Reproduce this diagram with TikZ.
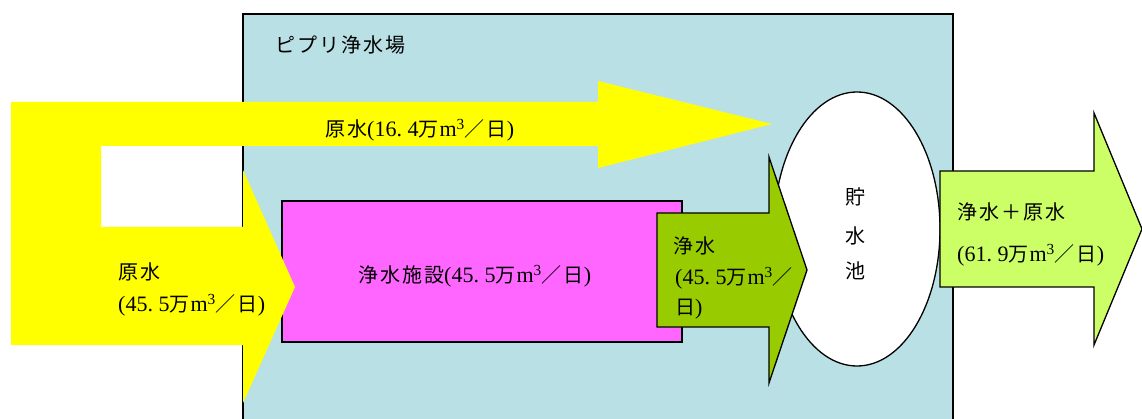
\documentclass[tikz,border=0pt]{standalone}
\usepackage{fontspec}
\setmainfont{Liberation Serif}[Scale=1.1]
\newfontfamily\cjk{Noto Sans CJK JP}[LetterSpace=10]
\usetikzlibrary{shapes.geometric}
\definecolor{plantbg}{RGB}{185,224,228}
\definecolor{rawyellow}{RGB}{255,255,0}
\definecolor{facmag}{RGB}{255,102,255}
\definecolor{cleangreen}{RGB}{153,204,0}
\definecolor{outgreen}{RGB}{204,255,102}
\newcommand{\myunit}{{\cjk 万}\kern1pt m\textsuperscript{3}{\cjk ／日}}
\newcommand{\pd}{.\kern.25em}
\begin{document}
\begin{tikzpicture}[x=1pt,y=-1pt,
  lbl/.style={anchor=base west, inner sep=0pt, font=\fontsize{20}{24}\selectfont},
  blockline/.style={draw=black, line width=1.3pt, line join=miter}]
\clip (0,0) rectangle (1142,419);
\fill[white] (0,0) rectangle (1142,419);
% plant box
\draw[fill=plantbg, line width=1.6pt] (243,14) rectangle (953,440);
% reservoir
\node[ellipse, blockline, fill=white, minimum width=166pt, minimum height=274pt, inner sep=0pt] (pool) at (857,229) {};
% facility
\draw[blockline, fill=facmag] (282,201) rectangle (682,342);
% raw water shape
\fill[rawyellow] (11,102) -- (598,102) -- (598,81) -- (772,124) -- (598,168) -- (598,146)
  -- (101,146) -- (101,227) -- (243,227) -- (243,170) -- (295,287) -- (243,403)
  -- (243,345) -- (11,345) -- cycle;
% clean water arrow
\draw[blockline, fill=cleangreen] (657,213) -- (769,213) -- (769,157) -- (807,270)
  -- (769,383) -- (769,327) -- (657,327) -- cycle;
% output arrow
\draw[blockline, fill=outgreen] (940,171) -- (1094,171) -- (1094,113) -- (1142,229)
  -- (1094,345) -- (1094,287) -- (940,287) -- cycle;
% texts
\node[lbl] (title) at (275,53) {\cjk ピプリ浄水場};
\node[lbl] (raw1) at (325,137) {{\cjk 原水}(16\pd 4\myunit)};
\node[lbl] (raw2a) at (118,280) {\cjk 原水};
\node[lbl] (raw2b) at (118,312) {(45\pd 5\myunit)};
\node[lbl] (fac) at (358,283) {{\cjk 浄水施設}(45\pd 5\myunit)};
\node[lbl] (cl1) at (673,254) {\cjk 浄水};
\node[lbl] (cl2) at (675,285) {(45\pd 5{\cjk 万}\kern1pt m\textsuperscript{3}{\cjk ／}};
\node[lbl] (cl3) at (675,315) {{\cjk 日})};
\node[lbl, anchor=base] (p1) at (855,205) {\cjk 貯};
\node[lbl, anchor=base] (p2) at (855,244) {\cjk 水};
\node[lbl, anchor=base] (p3) at (855,279) {\cjk 池};
\node[lbl] (out1) at (957,220) {\cjk 浄水＋原水};
\node[lbl] (out2) at (957,262) {(61\pd 9\myunit)};
\end{tikzpicture}
\end{document}
